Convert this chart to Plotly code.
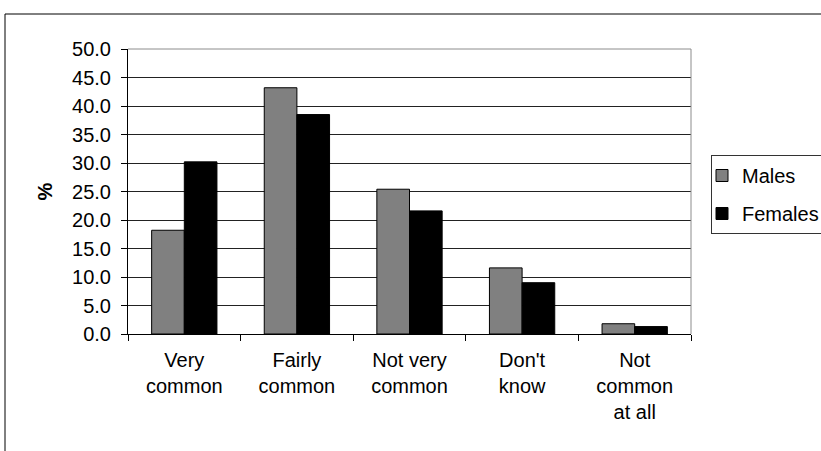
import plotly.graph_objects as go

# Survey responses, % by sex
categories = ["Very<br>common", "Fairly<br>common", "Not very<br>common", "Don't<br>know", "Not<br>common<br>at all"]
males = [18.2, 43.2, 25.4, 11.6, 1.8]
females = [30.2, 38.5, 21.6, 9.0, 1.3]
y_ticks = [0, 5, 10, 15, 20, 25, 30, 35, 40, 45, 50]

FONT = "Liberation Sans, Arial, sans-serif"

fig = go.Figure()
fig.add_trace(go.Bar(
    x=categories, y=males, name="Males", legendgroup="m",
    marker=dict(color="#808080", line=dict(color="#000000", width=1)),
))
fig.add_trace(go.Bar(
    x=categories, y=females, name="Females", legendgroup="f",
    marker=dict(color="#000000", line=dict(color="#000000", width=1)),
))

W, H = 821, 451
L, R, T, B = 128, 130, 49, 117
pw, ph = W - L - R, H - T - B

def px_x(px):
    return (px - L) / pw

def px_y(py):
    return (H - B - py) / ph

fig.update_layout(
    width=W, height=H,
    margin=dict(l=L, r=R, t=T, b=B, autoexpand=False),
    paper_bgcolor="white", plot_bgcolor="white",
    font=dict(family=FONT, size=20, color="#000000"),
    barmode="group", bargap=0.42, bargroupgap=0,
    showlegend=True,
    legend=dict(
        x=px_x(711), y=px_y(155), xanchor="left", yanchor="top",
        bordercolor="#333333", borderwidth=1, bgcolor="white",
        font=dict(family=FONT, size=20, color="#000000"),
        traceorder="grouped", tracegroupgap=9,
        itemwidth=30, indentation=-10,
    ),
    xaxis=dict(
        type="category", tickson="boundaries", ticks="outside", ticklen=6,
        tickcolor="#000000", showline=True, linecolor="#000000", linewidth=1,
        showgrid=False, tickfont=dict(family=FONT, size=20, color="#000000"),
        ticklabelstandoff=8, fixedrange=True,
    ),
    yaxis=dict(
        range=[0, 50], tickvals=y_ticks, tickformat=".1f",
        ticks="outside", ticklen=6, tickcolor="#000000",
        showline=True, linecolor="#000000", linewidth=1,
        showgrid=True, gridcolor="#222222", gridwidth=1,
        zeroline=False, ticklabelstandoff=6,
        tickfont=dict(family=FONT, size=20, color="#000000"),
        title=dict(text="<b>%</b>", font=dict(family=FONT, size=20), standoff=14),
    ),
)

# Plot-area frame (top and right edges) in grey
fig.add_shape(type="line", xref="paper", yref="paper", x0=0, x1=1, y0=1, y1=1,
              line=dict(color="#8c8c8c", width=1))
fig.add_shape(type="line", xref="paper", yref="paper", x0=1, x1=1, y0=0, y1=1,
              line=dict(color="#8c8c8c", width=1))
# Outer chart border
fig.add_shape(type="rect", xref="paper", yref="paper",
              x0=px_x(5), x1=px_x(840), y0=px_y(14), y1=px_y(470),
              line=dict(color="#000000", width=1), layer="below")

fig.write_html("out.html")
